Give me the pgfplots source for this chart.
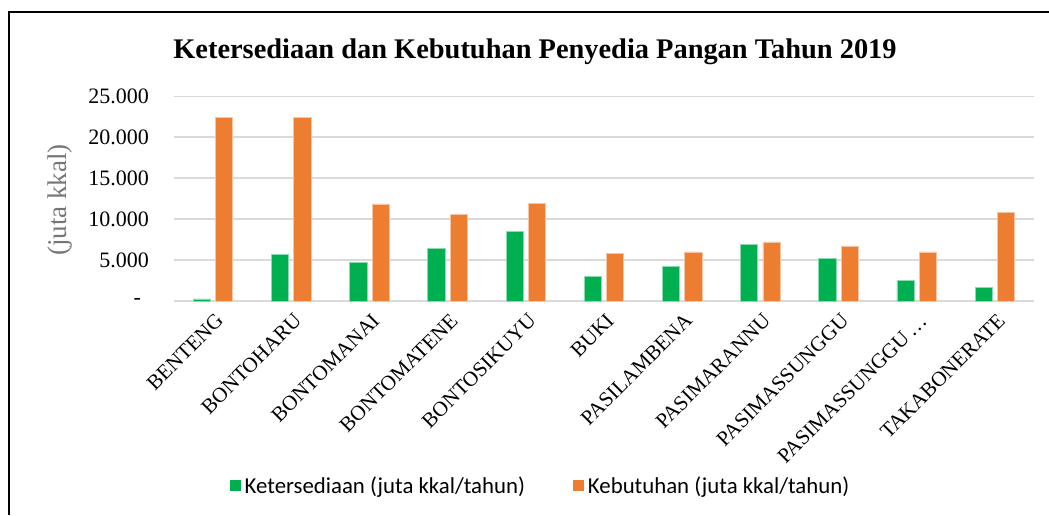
\documentclass[border=0pt]{standalone}
\usepackage{fontspec}
\setmainfont{Liberation Serif}
\newfontfamily\legfont{Carlito}
\usepackage{pgfplots}
\pgfplotsset{compat=1.18}
\definecolor{cgreen}{RGB}{0,176,80}
\definecolor{corange}{RGB}{237,125,49}
\definecolor{cgrid}{RGB}{217,217,217}
\definecolor{cylab}{RGB}{118,118,118}
\begin{document}
\begin{tikzpicture}
\path[use as bounding box] (0,0) rectangle (524.5pt,257.5pt);
\draw[black, line width=0.65pt] (4.5pt,0) -- (4.5pt,251.5pt) -- (524.5pt,251.5pt);
\node[anchor=base, font=\fontsize{14.2}{16}\selectfont\bfseries] at (267.5pt,228pt) {Ketersediaan dan Kebutuhan Penyedia Pangan Tahun 2019};
\begin{axis}[
  at={(87pt,107pt)}, anchor=south west,
  scale only axis, width=430pt, height=102.35pt,
  xmin=-0.5, xmax=10.5, ymin=0, ymax=25000,
  scaled y ticks=false,
  ybar=2.55pt, bar width=8.6pt,
  axis line style={draw=none},
  major tick length=0pt,
  ymajorgrids, grid style={cgrid, line width=0.75pt},
  ytick={0,5000,10000,15000,20000,25000},
  yticklabels={-\hspace*{4pt},5.000,10.000,15.000,20.000,25.000},
  yticklabel style={font=\fontsize{11}{13}\selectfont, xshift=-9pt},
  xtick={0,...,10},
  xticklabels={BENTENG,BONTOHARU,BONTOMANAI,BONTOMATENE,BONTOSIKUYU,BUKI,PASILAMBENA,PASIMARANNU,PASIMASSUNGGU,PASIMASSUNGGU\,…,TAKABONERATE},
  xticklabel style={rotate=45, anchor=north east, font=\fontsize{10.5}{12}\selectfont, yshift=-1pt},
  ylabel={(juta kkal)},
  ylabel style={at={(axis description cs:-0.133,0.493)}, anchor=center, font=\fontsize{13.5}{15}\selectfont, color=cylab},
  legend style={at={(axis description cs:0.4273,-0.909)}, anchor=center, draw=none, fill=none,
    font=\legfont\fontsize{11.4}{13}\selectfont, legend columns=2,
    /tikz/every even column/.append style={column sep=22pt}},
  legend image code/.code={\fill[#1,draw=none] (0pt,-2.2pt) rectangle (5.5pt,3.3pt);},
]
\addplot[fill=cgreen, draw=cgreen!45!white, line width=0.4pt] table[x=x,y=g] {
x g o
0 250 22430
1 5660 22390
2 4720 11850
3 6470 10550
4 8510 11930
5 3010 5820
6 4190 5990
7 6920 7210
8 5170 6720
9 2520 5990
10 1670 10790
};
\addplot[fill=corange, draw=corange!45!white, line width=0.4pt] table[x=x,y=o] {
x g o
0 250 22430
1 5660 22390
2 4720 11850
3 6470 10550
4 8510 11930
5 3010 5820
6 4190 5990
7 6920 7210
8 5170 6720
9 2520 5990
10 1670 10790
};
\legend{Ketersediaan (juta kkal/tahun),Kebutuhan (juta kkal/tahun)}
\end{axis}
\end{tikzpicture}
\end{document}
